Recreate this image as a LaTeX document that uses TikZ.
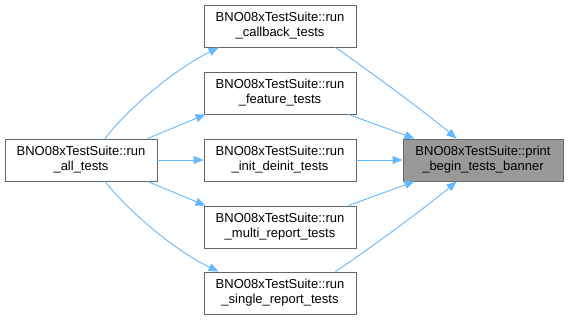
\documentclass[tikz,border=0pt]{standalone}
\usepackage{fontspec}
\setmainfont{Liberation Sans}
\usepackage{tikz}
\usetikzlibrary{arrows.meta, calc}

\definecolor{edgeblue}{HTML}{63B8FF}
\definecolor{boxline}{HTML}{666666}
\definecolor{boxfill}{HTML}{999999}

\begin{document}
\begin{tikzpicture}[x=1pt, y=-1pt,
  fn/.style={draw=boxline, line width=0.9pt, fill=white, align=center,
    minimum width=152pt, minimum height=42pt, inner sep=0pt,
    font=\fontsize{13}{15}\selectfont},
  hit/.style={fn, fill=boxfill, minimum width=160pt},
  call/.style={draw=edgeblue, line width=0.9pt, -{Triangle[length=10pt, width=8pt]}}]
\useasboundingbox (0,0) rectangle (568,320);

\node[fn] (all) at (81,160) {BNO08xTestSuite::run\\\_all\_tests};
\node[fn] (cb) at (280,26) {BNO08xTestSuite::run\\\_callback\_tests};
\node[fn] (feat) at (280,93) {BNO08xTestSuite::run\\\_feature\_tests};
\node[fn] (init) at (280,160) {BNO08xTestSuite::run\\\_init\_deinit\_tests};
\node[fn] (multi) at (280,227) {BNO08xTestSuite::run\\\_multi\_report\_tests};
\node[fn] (single) at (280,293) {BNO08xTestSuite::run\\\_single\_report\_tests};
\node[hit] (banner) at (483,160) {BNO08xTestSuite::print\\\_begin\_tests\_banner};

% callers of the run_* tests
\draw[call] ($(all.north)+(24,0)$) .. controls (125,112) and (170,72) .. ($(cb.south west)+(15,0)$);
\draw[call] ($(all.north east)+(-10,0)$) -- ($(feat.south west)+(2,0)$);
\draw[call] (all) -- (init);
\draw[call] ($(all.south east)+(-10,0)$) -- ($(multi.north west)+(2,0)$);
\draw[call] ($(all.south)+(24,0)$) .. controls (125,207) and (170,248) .. ($(single.north west)+(15,0)$);

% everything ends in the banner
\draw[call] ($(cb.south east)+(-21,0)$) .. controls (365,68) and (425,112) .. ($(banner.north west)+(54,0)$);
\draw[call] ($(feat.south east)+(-8,0)$) -- ($(banner.north west)+(12,0)$);
\draw[call] (init) -- (banner);
\draw[call] ($(multi.north east)+(-8,0)$) -- ($(banner.south west)+(12,0)$);
\draw[call] ($(single.north east)+(-21,0)$) .. controls (365,252) and (425,208) .. ($(banner.south west)+(54,0)$);
\end{tikzpicture}
\end{document}
